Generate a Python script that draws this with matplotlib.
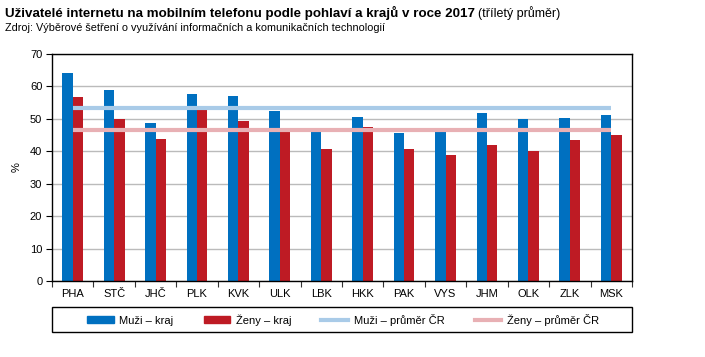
import matplotlib
matplotlib.use("Agg")
import matplotlib.pyplot as plt
import numpy as np
from matplotlib.patches import Rectangle, Patch
from matplotlib.lines import Line2D

plt.rcParams['font.family'] = ['Liberation Sans', 'DejaVu Sans']

regions = ["PHA", "STČ", "JHČ", "PLK", "KVK", "ULK", "LBK", "HKK", "PAK", "VYS", "JHM", "OLK", "ZLK", "MSK"]
muzi_kraj = [64.0, 59.0, 48.8, 57.8, 57.1, 52.5, 46.3, 50.6, 45.7, 46.1, 51.9, 50.0, 50.3, 51.3]
zeny_kraj = [56.8, 50.0, 43.9, 52.9, 49.2, 46.2, 40.6, 47.6, 40.8, 38.9, 42.0, 40.1, 43.5, 45.1]
muzi_prumer = 53.3
zeny_prumer = 46.5
yticks = [0, 10, 20, 30, 40, 50, 60, 70]

c_blue = "#0070C0"
c_red = "#BE1B24"
c_lblue = "#A9CBE8"
c_pink = "#E8B0B4"

W, H = 705, 357
fig = plt.figure(figsize=(W / 100, H / 100), dpi=100)
ax = fig.add_axes([52 / W, (H - 281) / H, 580 / W, 227 / H])

x = np.arange(len(regions))
bw = 0.25
ax.bar(x - bw / 2, muzi_kraj, width=bw, color=c_blue, zorder=2)
ax.bar(x + bw / 2, zeny_kraj, width=bw, color=c_red, zorder=2)
ax.plot([x[0], x[-1]], [muzi_prumer, muzi_prumer], color=c_lblue, lw=3, zorder=3, solid_capstyle='butt')
ax.plot([x[0], x[-1]], [zeny_prumer, zeny_prumer], color=c_pink, lw=3, zorder=3, solid_capstyle='butt')

ax.set_xlim(-0.5, len(regions) - 0.5)
ax.set_ylim(0, 70)
ax.set_yticks(yticks)
ax.set_yticklabels([str(v) for v in yticks], fontsize=8)
ax.set_xticks(x)
ax.set_xticklabels(regions, fontsize=8)
ax.set_xticks(np.arange(-0.5, len(regions), 1.0), minor=True)
ax.tick_params(axis='x', which='major', length=0, pad=6)
ax.tick_params(axis='x', which='minor', length=4, direction='out', width=0.8, color='#333333')
ax.tick_params(axis='y', which='major', length=4, direction='out', width=0.8, pad=3)
ax.yaxis.grid(True, color='#BBBBBB', lw=1)
ax.set_axisbelow(True)
for s in ax.spines.values():
    s.set_color('black')
    s.set_linewidth(1)
ax.set_ylabel('%', fontsize=8, labelpad=6)

t1 = fig.text(5 / W, 1 - 13 / H, "Uživatelé internetu na mobilním telefonu podle pohlaví a krajů v roce 2017",
              fontsize=9.6, fontweight='bold', va='center', ha='left')
fig.canvas.draw()
bb = t1.get_window_extent()
fig.text(bb.x1 / W + 3 / W, 1 - 13 / H, "(tříletý průměr)", fontsize=9.0, va='center', ha='left')
fig.text(5 / W, 1 - 28 / H, "Zdroj: Výběrové šetření o využívání informačních a komunikačních technologií",
         fontsize=7.8, va='center', ha='left')

# legend frame
fig.add_artist(Rectangle((52 / W, (H - 332) / H), 580 / W, 25 / H, transform=fig.transFigure,
                         fill=False, edgecolor='black', lw=1))
handles = [Patch(color=c_blue), Patch(color=c_red),
           Line2D([], [], color=c_lblue, lw=3), Line2D([], [], color=c_pink, lw=3)]
labels = ["Muži – kraj", "Ženy – kraj", "Muži – průměr ČR", "Ženy – průměr ČR"]
fig.legend(handles, labels, ncol=4, mode='expand', frameon=False, fontsize=8,
           bbox_to_anchor=(87 / W, (H - 332) / H, 512 / W, 25 / H), loc='center',
           handlelength=2.4, handleheight=0.6, handletextpad=0.5, borderpad=0, borderaxespad=0)

fig.savefig("out.png", dpi=100)
